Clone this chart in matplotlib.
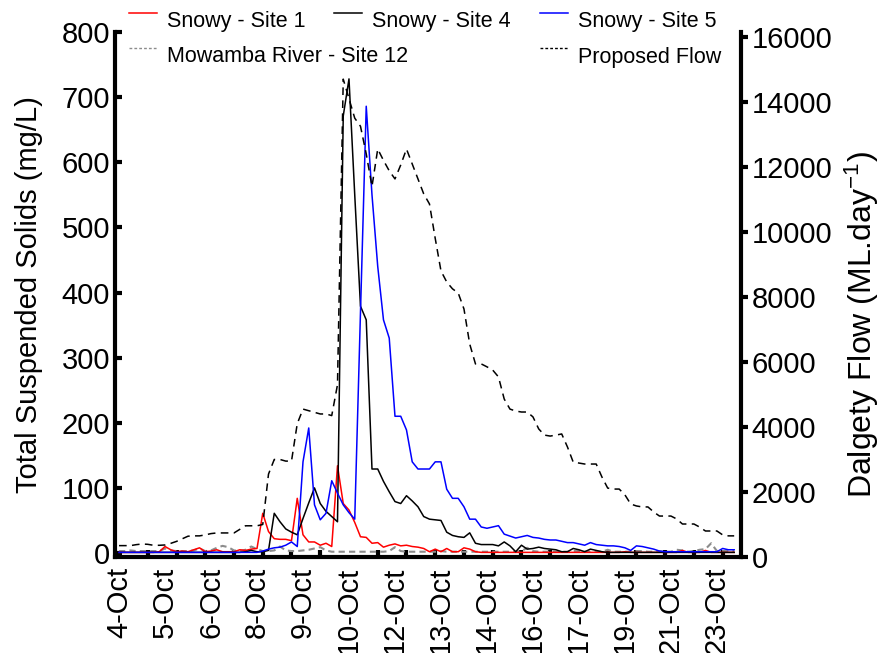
import matplotlib
matplotlib.use('Agg')
import matplotlib.pyplot as plt
from matplotlib.lines import Line2D
import numpy as np

plt.rcParams['font.family'] = ['Liberation Sans', 'DejaVu Sans']
plt.rcParams['mathtext.fontset'] = 'custom'
plt.rcParams['mathtext.rm'] = 'Liberation Sans'
plt.rcParams['mathtext.it'] = 'Liberation Sans:italic'

# x axis is sample number (irregular sampling); a date label every 8 samples
date_labels = ['4-Oct', '5-Oct', '6-Oct', '8-Oct', '9-Oct', '10-Oct', '12-Oct',
               '13-Oct', '14-Oct', '16-Oct', '17-Oct', '19-Oct', '21-Oct', '23-Oct']

# Total suspended solids (mg/L)
site1 = [1, 1, 1, 1, 1, 1, 1, 2,
         10, 5, 2, 3, 2, 5, 8, 2,
         3, 5, 2, 2, 2, 5, 4, 6,
         7, 61, 33, 22, 21, 21, 19, 84,
         28, 17, 17, 12, 15, 10, 134, 76,
         66, 47, 25, 24, 15, 16, 9, 12,
         14, 11, 12, 10, 9, 7, 2, 6,
         2, 7, 2, 2, 8, 6, 2, 1,
         1, 1, 1, 1, 1, 1, 1, 1,
         1, 1, 1, 1, 1, 1, 1, 1,
         1, 1, 1, 1, 1, 1, 1, 1,
         2, 1, 1, 1, 1, 1, 1, 1,
         1, 1, 4, 1, 1, 1, 4, 1,
         1, 1, 1, 1]

site4 = [1, 1, 1, 1, 1, 1, 1, 1,
         1, 1, 1, 1, 1, 1, 1, 1,
         1, 1, 1, 1, 1, 1, 2, 4,
         2, 2, 4, 61, 48, 37, 32, 28,
         53, 77, 100, 76, 64, 56, 48, 671,
         728, 550, 379, 358, 129, 129, 110, 94,
         79, 76, 88, 80, 71, 56, 52, 51,
         50, 32, 27, 25, 24, 31, 15, 13,
         13, 13, 11, 17, 11, 2, 12, 6,
         7, 9, 7, 6, 5, 2, 2, 7,
         5, 2, 6, 4, 2, 1, 1, 1,
         1, 1, 1, 1, 1, 1, 1, 1,
         1, 1, 1, 1, 1, 1, 1, 1,
         1, 1, 1, 1]

site5 = [1, 1, 1, 1, 1, 1, 1, 1,
         1, 1, 1, 1, 1, 1, 1, 1,
         1, 1, 1, 1, 1, 1, 1, 1,
         1, 3, 6, 8, 9, 12, 17, 10,
         140, 192, 74, 51, 61, 111, 92, 74,
         62, 52, 370, 686, 550, 440, 358, 330,
         210, 210, 189, 140, 129, 129, 129, 140,
         140, 98, 84, 84, 71, 52, 52, 40,
         38, 40, 42, 29, 26, 23, 25, 27,
         24, 23, 21, 20, 20, 18, 16, 16,
         14, 12, 16, 13, 12, 11, 11, 10,
         8, 4, 11, 10, 8, 6, 3, 2,
         2, 2, 2, 2, 2, 2, 2, 2,
         2, 7, 5, 5]

site12 = [3, 3, 4, 3, 3, 3, 3, 3,
          7, 4, 3, 3, 3, 4, 7, 3,
          4, 8, 11, 9, 4, 3, 5, 10,
          6, 3, 3, 4, 10, 4, 3, 3,
          4, 5, 7, 9, 4, 2, 2, 2,
          2, 2, 2, 2, 2, 2, 2, 3,
          9, 3, 2, 2, 2, 2, 2, 2,
          3, 2, 2, 2, 2, 2, 2, 2,
          2, 2, 2, 2, 2, 2, 3, 8,
          3, 2, 2, 2, 2, 2, 2, 3,
          3, 2, 2, 2, 2, 5, 2, 2,
          2, 2, 3, 3, 2, 2, 3, 2,
          2, 5, 4, 2, 3, 5, 6, 15,
          3, 3, 3, 3]

# Dalgety flow (ML/day)
flow = [350, 350, 350, 380, 400, 390, 360, 360,
        370, 420, 480, 560, 640, 650, 650, 680,
        720, 740, 740, 740, 740, 850, 960, 960,
        960, 1000, 2550, 3000, 3000, 2950, 2950, 4100,
        4550, 4500, 4450, 4400, 4400, 4350, 5300, 14700,
        14100, 13500, 13250, 12400, 11400, 12550, 12200, 11880,
        11630, 12060, 12550, 12090, 11630, 11170, 10860, 9800,
        8800, 8460, 8250, 8120, 7630, 6550, 5940, 5940,
        5850, 5750, 5540, 4860, 4550, 4490, 4460, 4460,
        4310, 3940, 3750, 3720, 3750, 3785, 3385, 2920,
        2890, 2860, 2860, 2860, 2460, 2120, 2090, 2090,
        1910, 1630, 1570, 1540, 1540, 1385, 1260, 1260,
        1260, 1170, 1015, 1015, 1015, 920, 800, 800,
        800, 680, 650, 650]

x = np.arange(len(flow))

W, H = 887, 653
fig = plt.figure(figsize=(W/100, H/100), dpi=100)
L, R, T, B = 115, 740.5, 32, 557
ax = fig.add_axes([L/W, 1-B/H, (R-L)/W, (B-T)/H])
ax2 = ax.twinx()

lw = 1.1
ax.plot(x, site12, color='#8c8c8c', lw=1.5, dashes=(3, 2))
ax.plot(x, site1, color='red', lw=lw)
ax.plot(x, site4, color='black', lw=lw)
ax.plot(x, site5, color='blue', lw=lw)
ax2.plot(x, flow, color='black', lw=lw, dashes=(5, 3.5))

ax.set_xlim(-0.7, 108.1)
ax.set_ylim(-6.1, 800)
ax2.set_ylim(0, 16150)

ax.set_yticks(np.arange(0, 801, 100))
ax2.set_yticks(np.arange(0, 16001, 2000))
ax.set_xticks(np.arange(0, 8*len(date_labels), 8))
ax.set_xticklabels(date_labels, rotation=90)
ax.set_xticks(np.arange(0, 106, 5), minor=True)

fs = 21
ax.tick_params(axis='y', direction='in', length=5, width=3, labelsize=fs, pad=3.5)
ax.tick_params(axis='x', which='major', length=0, labelsize=fs, pad=7)
ax.tick_params(axis='x', which='minor', direction='in', length=5, width=3)
ax2.tick_params(axis='y', direction='out', length=5, width=3, labelsize=fs, pad=3)

for a in (ax, ax2):
    a.spines['top'].set_visible(False)
    for s in a.spines.values():
        s.set_linewidth(3)
ax2.spines['left'].set_visible(False)
ax2.spines['bottom'].set_visible(False)
ax.spines['right'].set_visible(False)

ax.set_ylabel('Total Suspended Solids (mg/L)', fontsize=fs)
ax.yaxis.set_label_coords(-0.115, 0.5)
ax2.set_ylabel('Dalgety Flow (ML.day$^{\\mathrm{-1}}$)', fontsize=23, rotation=90)
ax2.yaxis.set_label_coords(1.164, 0.443)

# legend, laid out by hand
leg = [('Snowy - Site 1', 'red', 1.1, None, 129, 13),
       ('Snowy - Site 4', 'black', 1.1, None, 334, 13),
       ('Snowy - Site 5', 'blue', 1.1, None, 540, 13),
       ('Mowamba River - Site 12', '#8c8c8c', 1.0, (2, 1.5), 129, 48),
       ('Proposed Flow', 'black', 1.0, (2, 1.5), 540, 48)]
for name, c, w, d, x0, y0 in leg:
    ln = Line2D([x0/W, (x0+28)/W], [1-y0/H, 1-y0/H], color=c, lw=w,
                transform=fig.transFigure)
    if d:
        ln.set_dashes(d)
    fig.add_artist(ln)
    fig.text((x0+38)/W, 1-(y0+9)/H, name, fontsize=15.5, va='center', ha='left')

fig.savefig('out.png', dpi=100)
